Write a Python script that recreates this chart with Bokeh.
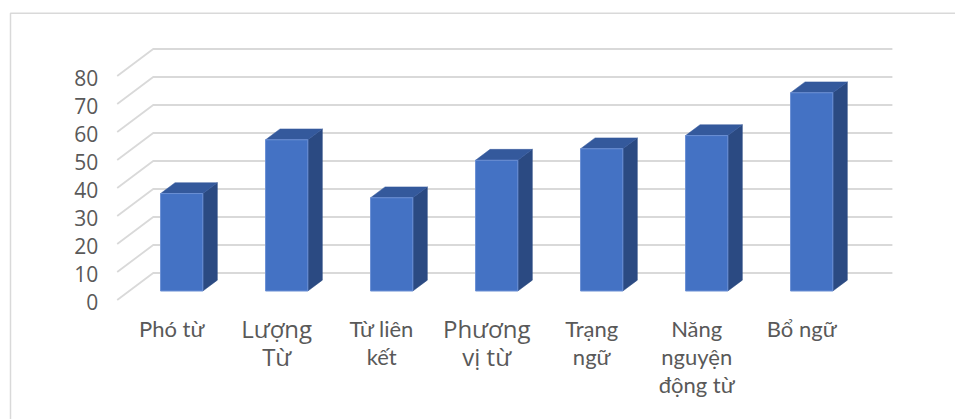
from bokeh.plotting import figure
from bokeh.models import Range1d
from bokeh.embed import file_html
from bokeh.resources import INLINE
from bokeh.core.properties import value

# ---------------- data ----------------
categories = ["Phó từ", "Lượng\nTừ", "Từ liên\nkết", "Phương\nvị từ",
              "Trạng\nngữ", "Năng\nnguyện\nđộng từ", "Bổ ngữ"]
values = [34.8, 54.0, 33.3, 46.7, 50.8, 55.5, 70.8]
y_ticks = [0, 10, 20, 30, 40, 50, 60, 70, 80]

# ---------------- layout / style ----------------
W, H = 955, 419
CAT_PX = 105.0          # pixels per category step
VAL_PX = 2.8            # pixels per value unit
X0_PX = 181.2           # pixel x of first category centre
Y0_PX = 290.5           # pixel y of value 0 on the bar front face
DEPTH = (36.0, 27.0)    # oblique depth vector (right, up) in px, full depth
BAR_D0 = 1.0 / 3.0      # depth of the bar front face
BAR_D1 = BAR_D0 + 14.5 / 36.0
BAR_W = 42.3 / CAT_PX
WALL_RIGHT_PAD = 0.04
BIG_LABELS = {1, 3}     # labels drawn in the larger font

FRONT = "#4472C4"
TOP = "#34599C"
SIDE = "#2B4A82"
GRID = "#D9D9D9"
TEXT = "#595959"

x_start = -X0_PX / CAT_PX
x_end = x_start + W / CAT_PX
y_end = Y0_PX / VAL_PX
y_start = y_end - H / VAL_PX


def X(px):
    return x_start + px / CAT_PX


def Y(py):
    return y_end - py / VAL_PX


def proj(i, v, d):
    """category position, value, depth (0 front .. 1 back) -> data coords"""
    return (i + (d - BAR_D0) * DEPTH[0] / CAT_PX,
            v + (d - BAR_D0) * DEPTH[1] / VAL_PX)


p = figure(width=W, height=H, output_backend="svg", toolbar_location=None,
           x_range=Range1d(x_start, x_end), y_range=Range1d(y_start, y_end),
           min_border=0)
p.axis.visible = False
p.grid.visible = False
p.outline_line_color = None
p.background_fill_color = "white"
p.border_fill_color = "white"

# chart area border (top and left visible)
p.line([X(10), X(10), X(W + 5)], [Y(H + 5), Y(12.7), Y(12.7)],
       line_color=GRID, line_width=1.5)

# walls' gridlines
n = len(categories)
left = -0.5
right = n - 0.5 + WALL_RIGHT_PAD
gx, gy = [], []
for t in y_ticks:
    a = proj(left, t, 0)
    b = proj(left, t, 1)
    c = proj(right, t, 1)
    gx.append([a[0], b[0], c[0]])
    gy.append([a[1], b[1], c[1]])
p.multi_line(gx, gy, line_color=GRID, line_width=1.8)

# tick labels
tx = [proj(left, t, 0)[0] - 19 / CAT_PX for t in y_ticks]
ty = [proj(left, t, 0)[1] - 2 / VAL_PX for t in y_ticks]
p.text(tx, ty, text=[str(t) for t in y_ticks], text_align="right",
       text_baseline="middle", text_font=value("Open Sans"),
       text_font_size="21px", text_color=TEXT)

# 3D bars
idx = list(range(n))
hw = BAR_W / 2
top_xs, top_ys, side_xs, side_ys = [], [], [], []
for i, v in zip(idx, values):
    pts = [proj(i - hw, v, BAR_D0), proj(i + hw, v, BAR_D0),
           proj(i + hw, v, BAR_D1), proj(i - hw, v, BAR_D1)]
    top_xs.append([q[0] for q in pts])
    top_ys.append([q[1] for q in pts])
    pts = [proj(i + hw, 0, BAR_D0), proj(i + hw, v, BAR_D0),
           proj(i + hw, v, BAR_D1), proj(i + hw, 0, BAR_D1)]
    side_xs.append([q[0] for q in pts])
    side_ys.append([q[1] for q in pts])

p.patches(side_xs, side_ys, fill_color=SIDE, line_color=SIDE, line_width=0.5)
p.patches(top_xs, top_ys, fill_color=TOP, line_color=TOP, line_width=0.5)
p.vbar(x=idx, top=values, bottom=0, width=BAR_W, fill_color=FRONT,
       line_color="#6A8FD4", line_width=1)

# category labels
base0 = Y(328)
step = 28 / VAL_PX
small = dict(x=[], y=[], t=[])
big = dict(x=[], y=[], t=[])
for i, lab in enumerate(categories):
    tgt = big if i in BIG_LABELS else small
    for k, line in enumerate(lab.split("\n")):
        tgt["x"].append(i - 10 / CAT_PX)
        tgt["y"].append(base0 - k * step)
        tgt["t"].append(line)

p.text(small["x"], small["y"], text=small["t"], text_align="center",
       text_baseline="alphabetic", text_font=value("Lato"),
       text_font_size="22px", text_color=TEXT)
p.text(big["x"], big["y"], text=big["t"], text_align="center",
       text_baseline="alphabetic", text_font=value("Open Sans"),
       text_font_size="24px", text_color=TEXT)

open("out.html", "w").write(file_html(p, INLINE))
